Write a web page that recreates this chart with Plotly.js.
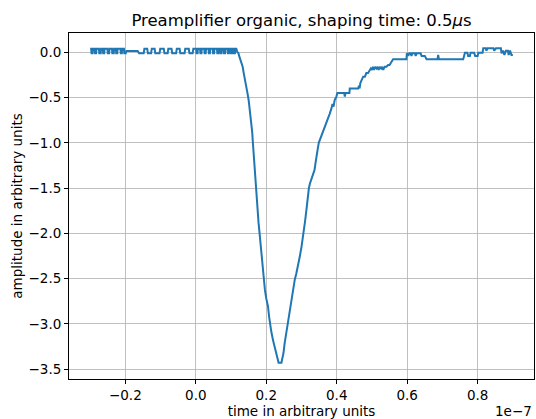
<!DOCTYPE html>
<html>
<head>
<meta charset="utf-8">
<script src="https://cdn.plot.ly/plotly-3.0.1.min.js"></script>
<style>
  html, body { margin: 0; padding: 0; background: #fff; }
  #chart { width: 536px; height: 419px; }
</style>
</head>
<body>
<div id="chart"></div>
<script>
// Time axis in units of 1e-7 (the exponent is shown at the axis end).
const time = [
  -0.300, -0.297, -0.296, -0.293, -0.292, -0.287, -0.286, -0.283, -0.282, -0.275,
  -0.274, -0.270, -0.269, -0.264, -0.263, -0.260, -0.259, -0.251, -0.250, -0.246,
  -0.245, -0.238, -0.237, -0.233, -0.232, -0.227, -0.226, -0.223, -0.222, -0.214,
  -0.213, -0.210, -0.209, -0.204, -0.203, -0.199, -0.197, -0.165, -0.161, -0.148,
  -0.146, -0.138, -0.136, -0.127, -0.125, -0.117, -0.115, -0.103, -0.101, -0.091,
  -0.089, -0.080, -0.078, -0.069, -0.067, -0.056, -0.054, -0.046, -0.044, -0.032,
  -0.030, -0.020, -0.018, -0.009, -0.007,
  0.001, 0.002, 0.005, 0.006, 0.012, 0.013, 0.016, 0.017, 0.024, 0.025,
  0.028, 0.029, 0.036, 0.037, 0.040, 0.041, 0.048, 0.049, 0.052, 0.053,
  0.060, 0.061, 0.064, 0.065, 0.069, 0.070, 0.073, 0.074, 0.079, 0.080,
  0.083, 0.084, 0.090, 0.091, 0.094, 0.095, 0.099, 0.100, 0.103, 0.104,
  0.107, 0.108, 0.111, 0.112, 0.115,
  0.118, 0.121, 0.123, 0.126, 0.130, 0.133, 0.136, 0.140, 0.143, 0.147,
  0.150, 0.153, 0.155, 0.158, 0.160, 0.162, 0.164, 0.166, 0.168, 0.170,
  0.173, 0.176, 0.178, 0.181, 0.184, 0.187, 0.189, 0.192, 0.196, 0.200,
  0.205, 0.208, 0.210, 0.214, 0.219, 0.224, 0.229, 0.232, 0.235, 0.243,
  0.246, 0.249, 0.252, 0.256, 0.259, 0.262, 0.266, 0.271, 0.276, 0.281,
  0.285, 0.290, 0.295, 0.300, 0.303, 0.306, 0.310, 0.314, 0.317, 0.321,
  0.324, 0.328, 0.332, 0.337, 0.340, 0.342, 0.346, 0.349, 0.354, 0.361,
  0.368, 0.375, 0.380, 0.385, 0.388, 0.391, 0.394, 0.399, 0.402, 0.421,
  0.423, 0.425, 0.436, 0.437, 0.461, 0.463, 0.465, 0.467, 0.470, 0.475,
  0.480, 0.484, 0.489, 0.494, 0.497, 0.500, 0.503, 0.506, 0.509, 0.513,
  0.516, 0.519, 0.522, 0.526, 0.529, 0.532, 0.536, 0.541, 0.546, 0.550,
  0.556, 0.560, 0.598, 0.599, 0.603, 0.606, 0.610, 0.612, 0.615, 0.622,
  0.624, 0.627, 0.638, 0.641, 0.650, 0.655, 0.686, 0.688, 0.690, 0.759,
  0.764, 0.771, 0.773, 0.778, 0.780, 0.790, 0.793, 0.800, 0.802, 0.814,
  0.816, 0.823, 0.825, 0.828, 0.845, 0.847, 0.852, 0.866, 0.868, 0.872,
  0.876, 0.880, 0.886, 0.888, 0.892, 0.896, 0.900
];

// Preamplifier output amplitude (arbitrary units).
const amplitude = [
  0.04, 0.04, -0.01, -0.01, 0.04, 0.04, -0.01, -0.01, 0.04, 0.04,
  -0.01, -0.01, 0.04, 0.04, -0.01, -0.01, 0.04, 0.04, -0.01, -0.01,
  0.04, 0.04, -0.01, -0.01, 0.04, 0.04, -0.01, -0.01, 0.04, 0.04,
  -0.01, -0.01, 0.04, 0.04, -0.01, -0.01, 0.015, 0.015, -0.01, -0.01,
  0.04, 0.04, -0.01, -0.01, 0.04, 0.04, -0.01, -0.01, 0.04, 0.04,
  -0.01, -0.01, 0.04, 0.04, -0.01, -0.01, 0.04, 0.04, -0.01, -0.01,
  0.04, 0.04, -0.01, -0.01, 0.04,
  0.04, -0.01, -0.01, 0.04, 0.04, -0.01, -0.01, 0.04, 0.04, -0.01,
  -0.01, 0.04, 0.04, -0.01, -0.01, 0.04, 0.04, -0.01, -0.01, 0.04,
  0.04, -0.01, -0.01, 0.04, 0.04, -0.01, -0.01, 0.04, 0.04, -0.01,
  -0.01, 0.04, 0.04, -0.01, -0.01, 0.04, 0.04, -0.01, -0.01, 0.04,
  0.04, -0.01, -0.01, 0.04, 0.04,
  0.00, -0.01, -0.04, -0.07, -0.12, -0.16, -0.23, -0.30, -0.38, -0.46,
  -0.53, -0.62, -0.71, -0.80, -0.88, -1.00, -1.12, -1.25, -1.38, -1.50,
  -1.63, -1.75, -1.88, -2.00, -2.13, -2.25, -2.38, -2.50, -2.62, -2.72,
  -2.81, -2.92, -2.99, -3.08, -3.18, -3.25, -3.32, -3.38, -3.43, -3.43,
  -3.38, -3.32, -3.22, -3.12, -3.05, -2.99, -2.86, -2.73, -2.62, -2.51,
  -2.45, -2.37, -2.26, -2.15, -2.08, -2.00, -1.87, -1.74, -1.62, -1.50,
  -1.45, -1.41, -1.36, -1.30, -1.22, -1.15, -1.07, -1.00, -0.95, -0.89,
  -0.82, -0.75, -0.68, -0.62, -0.57, -0.60, -0.53, -0.49, -0.45, -0.45,
  -0.49, -0.45, -0.45, -0.40, -0.40, -0.37, -0.40, -0.34, -0.31, -0.27,
  -0.27, -0.23, -0.23, -0.195, -0.177, -0.195, -0.16, -0.195, -0.16, -0.18,
  -0.16, -0.195, -0.16, -0.18, -0.16, -0.195, -0.16, -0.16, -0.14, -0.14,
  -0.10, -0.077, -0.077, -0.011, -0.04, -0.011, -0.011, -0.04, -0.011, -0.011,
  -0.04, -0.011, -0.011, -0.04, -0.04, -0.077, -0.077, -0.03, -0.077, -0.077,
  -0.004, -0.004, -0.04, -0.04, -0.004, -0.004, -0.04, -0.04, -0.004, -0.004,
  0.044, 0.044, 0.018, 0.044, 0.044, 0.018, 0.044, 0.044, -0.011, 0.018,
  -0.03, 0.018, 0.018, -0.03, 0.018, -0.03, -0.03
];

const xTicks = [-0.2, 0.0, 0.2, 0.4, 0.6, 0.8];
const yTicks = [0.0, -0.5, -1.0, -1.5, -2.0, -2.5, -3.0, -3.5];

const FONT = 'DejaVu Sans, sans-serif';

const trace = {
  x: time,
  y: amplitude,
  type: 'scatter',
  mode: 'lines',
  line: { color: '#1f77b4', width: 2 },
  hoverinfo: 'x+y'
};

const axisCommon = {
  showgrid: true,
  gridcolor: '#b0b0b0',
  gridwidth: 0.8,
  showline: true,
  mirror: true,
  linecolor: '#000',
  linewidth: 1,
  ticks: 'outside',
  ticklen: 4,
  tickwidth: 1,
  tickcolor: '#000',
  zeroline: false,
  tickformat: '.1f',
  tickfont: { family: FONT, size: 13.5, color: '#000' }
};

const layout = {
  width: 536,
  height: 419,
  margin: { l: 69, r: 2, t: 33, b: 40 },
  paper_bgcolor: '#fff',
  plot_bgcolor: '#fff',
  showlegend: false,
  font: { family: FONT, color: '#000' },
  title: {
    text: 'Preamplifier organic, shaping time: 0.5<i>μ</i>s',
    font: { family: FONT, size: 16.5, color: '#000' },
    x: 0.5, xref: 'paper', xanchor: 'center',
    y: 1, yref: 'paper', yanchor: 'bottom',
    pad: { b: 7 }
  },
  xaxis: Object.assign({}, axisCommon, {
    range: [-0.36, 0.96],
    tickmode: 'array',
    tickvals: xTicks,
    title: { text: 'time in arbitrary units', font: { family: FONT, size: 13.5, color: '#000' }, standoff: 4 }
  }),
  yaxis: Object.assign({}, axisCommon, {
    range: [-3.61, 0.213],
    tickmode: 'array',
    tickvals: yTicks,
    title: { text: 'amplitude in arbitrary units', font: { family: FONT, size: 13.5, color: '#000' }, standoff: 2 }
  }),
  annotations: [{
    text: '1e−7',
    xref: 'paper', yref: 'paper',
    x: 1, y: -0.092,
    xanchor: 'right', yanchor: 'middle',
    showarrow: false,
    font: { family: FONT, size: 13.5, color: '#000' }
  }]
};

Plotly.newPlot('chart', [trace], layout, { displayModeBar: false, staticPlot: true });
</script>
</body>
</html>
